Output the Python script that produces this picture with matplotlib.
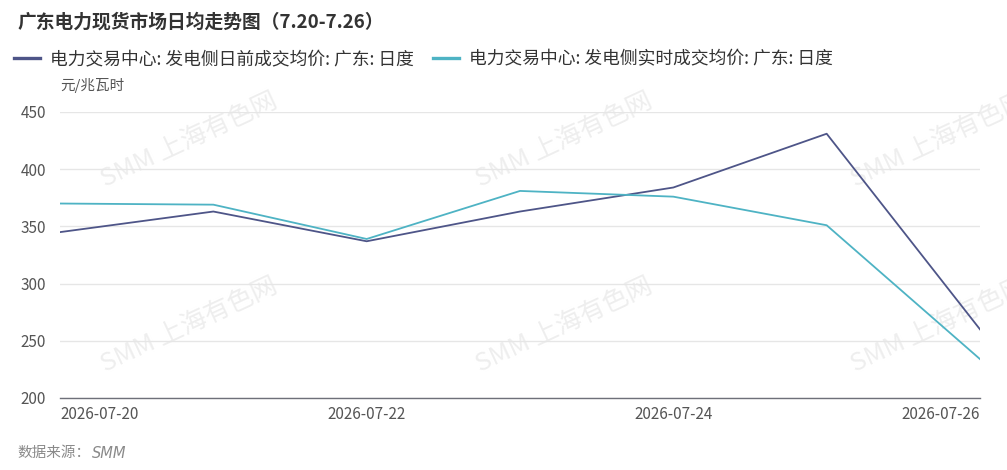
'''
广东电力现货市场日均走势图 (7.20-7.26)
'''

import numpy as np
import pandas as pd
from matplotlib import pyplot as plt
import matplotlib.dates as mdates


#(0) Data:
dates      = pd.to_datetime(['2026-07-20', '2026-07-21', '2026-07-22', '2026-07-23',
                             '2026-07-24', '2026-07-25', '2026-07-26'])
day_ahead  = [345, 363, 337, 363, 384, 431, 260]   # 发电侧日前成交均价
real_time  = [370, 369, 339, 381, 376, 351, 234]   # 发电侧实时成交均价
labels     = ['电力交易中心: 发电侧日前成交均价: 广东: 日度',
              '电力交易中心: 发电侧实时成交均价: 广东: 日度']
colors     = ['#4e5588', '#4eb3c4']
yticks     = [200, 250, 300, 350, 400, 450]
xticks     = dates[::2]
title      = '广东电力现货市场日均走势图（7.20-7.26）'
unit       = '元/兆瓦时'
source     = '数据来源：'
source_en  = 'SMM'
watermark  = 'SMM 上海有色网'


#(1) Style:
plt.rcParams['font.family'] = ['Noto Sans CJK SC', 'DejaVu Sans']
W, H = 1007, 470
fig  = plt.figure(figsize=(W/100, H/100), dpi=100)
ax   = fig.add_axes([60/W, 1-398/H, 920/W, 286/H])
ax.set_zorder(2)


#(2) Watermarks (behind everything):
for cx in [189, 564, 939]:
	for cy in [140, 325]:
		fig.text(cx/W, 1-cy/H, watermark, fontsize=18.5, color='#eeeeee',
		         rotation=25, ha='center', va='center', zorder=0)


#(3) Lines:
ax.plot(dates, day_ahead, color=colors[0], lw=1.3, label=labels[0], zorder=3)
ax.plot(dates, real_time, color=colors[1], lw=1.3, label=labels[1], zorder=3)

ax.set_xlim(dates[0], dates[-1])
ax.set_ylim(yticks[0], yticks[-1])
ax.set_yticks(yticks)
ax.set_xticks(xticks)
ax.xaxis.set_major_formatter(mdates.DateFormatter('%Y-%m-%d'))
ax.grid(axis='y', color='#e6e6e6', lw=1)
ax.set_axisbelow(True)
ax.patch.set_alpha(0)
for s in ['top', 'right', 'left']:
	ax.spines[s].set_visible(False)
ax.spines['bottom'].set_color('#6e7079')
ax.spines['bottom'].set_linewidth(1)
ax.tick_params(length=0, labelsize=11, colors='#555555')
ax.tick_params(axis='y', pad=10)
ax.tick_params(axis='x', pad=6)
xl = ax.get_xticklabels()
xl[0].set_ha('left')
xl[-1].set_ha('right')


#(4) Texts:
fig.text(17/W, 1-22/H, title, fontsize=13.5, fontweight='bold', color='#333333', va='center')
fig.text(60/W, 1-86/H, unit, fontsize=10.5, color='#555555', va='center')
t_src = fig.text(17/W, 1-453/H, source, fontsize=10.5, color='#8a8a8a', va='center')
fig.text(92/W, 1-453/H, source_en, fontsize=10.5, color='#8a8a8a', style='italic',
         va='center', family=['DejaVu Sans'])
leg = fig.legend(loc='center left', bbox_to_anchor=(14/W, 1-59/H), ncol=2, frameon=False,
                 fontsize=12.8, handlelength=1.45, handletextpad=0.55, columnspacing=1.1,
                 borderaxespad=0, borderpad=0)
for t in leg.get_texts():
	t.set_color('#333333')
for h in leg.get_lines():
	h.set_linewidth(2.4)

fig.savefig('out.png', dpi=100)
